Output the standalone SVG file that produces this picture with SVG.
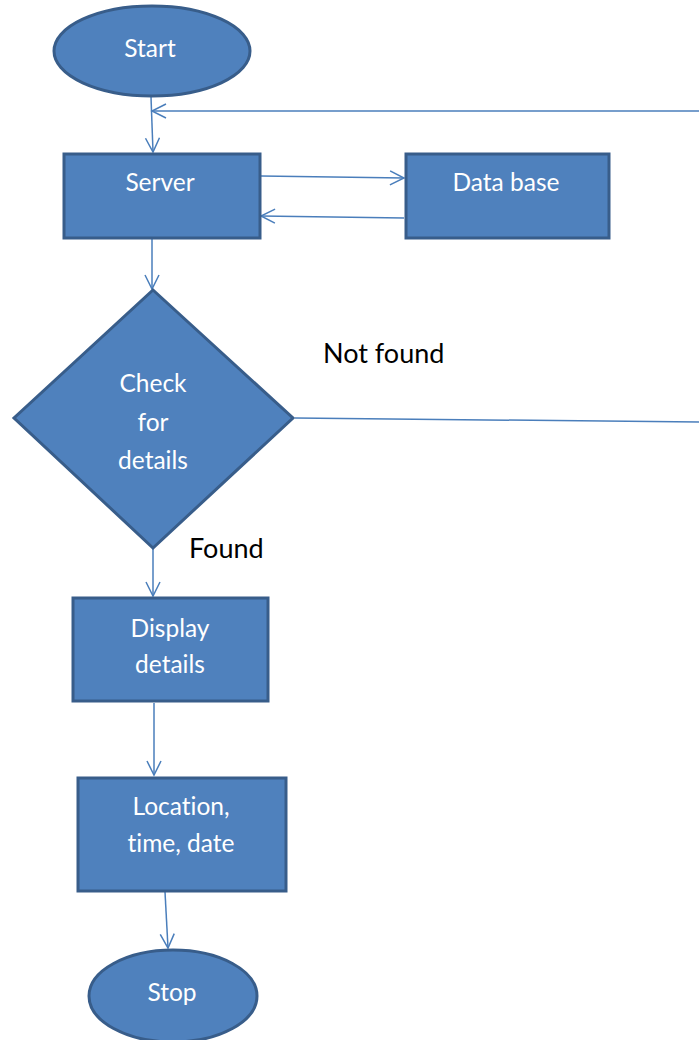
<svg xmlns="http://www.w3.org/2000/svg" width="699" height="1040" viewBox="0 0 699 1040">
<style>
.n{fill:#4F81BD;stroke:#385D8A;stroke-width:3}
.t{font-family:Lato,"Open Sans",sans-serif;font-size:24.5px;fill:#FFFFFF;text-anchor:middle;dominant-baseline:central;font-variant-ligatures:none}
.l{font-family:Lato,"Open Sans",sans-serif;font-size:27px;fill:#000000;dominant-baseline:central;font-variant-ligatures:none}
.c{fill:none;stroke:#4A7EBB;stroke-width:1.5}
</style>
<defs>
<marker id="a" markerWidth="20" markerHeight="20" refX="15" refY="8" orient="auto" markerUnits="userSpaceOnUse">
<path d="M1,1 L15,8 L1,15" fill="none" stroke="#4A7EBB" stroke-width="1.5"/>
</marker>
</defs>
<g id="connectors">
<path class="c" d="M151,97 L153,152" marker-end="url(#a)"/>
<path class="c" d="M699,111 L152,111" marker-end="url(#a)"/>
<path class="c" d="M261,176 L404,178" marker-end="url(#a)"/>
<path class="c" d="M404,218 L261,216" marker-end="url(#a)"/>
<path class="c" d="M152,238 L152,289" marker-end="url(#a)"/>
<path class="c" d="M295,418 L699,422"/>
<path class="c" d="M153,549 L153,596" marker-end="url(#a)"/>
<path class="c" d="M154,703 L154,775" marker-end="url(#a)"/>
<path class="c" d="M165,892 L168,948" marker-end="url(#a)"/>
</g>
<g id="start"><ellipse class="n" cx="152" cy="51" rx="98" ry="45"/><text class="t" x="150" y="47">Start</text></g>
<g id="server"><rect class="n" x="64" y="154" width="196" height="84"/><text class="t" x="160" y="181">Server</text></g>
<g id="database"><rect class="n" x="406" y="154" width="203" height="84"/><text class="t" x="506" y="181">Data base</text></g>
<g id="check"><polygon class="n" points="153,290 293,418 153,548 14,418"/><text class="t" x="153" y="382">Check</text><text class="t" x="153" y="421">for</text><text class="t" x="153" y="459">details</text></g>
<g id="display"><rect class="n" x="73" y="598" width="195" height="103"/><text class="t" x="170" y="627">Display</text><text class="t" x="170" y="663">details</text></g>
<g id="location"><rect class="n" x="78" y="778" width="208" height="113"/><text class="t" x="181" y="805">Location,</text><text class="t" x="181" y="842">time, date</text></g>
<g id="stop"><ellipse class="n" cx="173" cy="996" rx="84" ry="46"/><text class="t" x="172" y="991">Stop</text></g>
<text class="l" x="323" y="352">Not found</text>
<text class="l" x="189" y="547">Found</text>
</svg>
